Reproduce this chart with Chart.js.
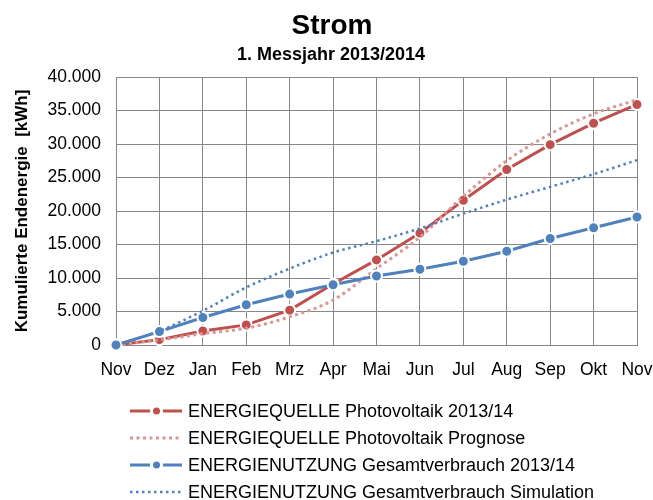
<!DOCTYPE html>
<html><head><meta charset="utf-8">
<script src="https://cdn.jsdelivr.net/npm/chart.js@4.4.0/dist/chart.umd.min.js"></script>
<style>html,body{margin:0;padding:0;background:#fff}#wrap{width:653px;height:500px;position:relative}canvas{display:block}</style>
</head><body><div id="wrap"><canvas id="c" width="653" height="500"></canvas></div>
<script>
const months = ['Nov','Dez','Jan','Feb','Mrz','Apr','Mai','Jun','Jul','Aug','Sep','Okt','Nov'];
const pvMeasured   = [0, 800, 2100, 3000, 5200, 9100, 12700, 16700, 21600, 26200, 29900, 33100, 35900];
const pvForecast   = [0, 750, 1700, 2500, 4200, 6700, 11400, 16100, 22200, 27500, 31500, 34500, 36600];
const useMeasured  = [0, 2000, 4100, 6000, 7600, 9000, 10300, 11300, 12500, 14000, 15900, 17500, 19100];
const useSimulated = [0, 2100, 5100, 8600, 11400, 13800, 15500, 17400, 19600, 21700, 23600, 25500, 27600];
const seriesLabels = [
  'ENERGIEQUELLE Photovoltaik 2013/14',
  'ENERGIEQUELLE Photovoltaik Prognose',
  'ENERGIENUTZUNG Gesamtverbrauch 2013/14',
  'ENERGIENUTZUNG Gesamtverbrauch Simulation'
];
const titleText = 'Strom';
const subtitleText = '1. Messjahr 2013/2014';
const yAxisTitle = 'Kumulierte Endenergie  [kWh]';
const yMax = 40000, yStep = 5000;

const FONT = '"Liberation Sans", Arial, sans-serif';
const RED = '#C0504D', PINK = '#D99694', BLUE = '#4F81BD', GRID = '#878787';

function fmt(v){ return String(v).replace(/\B(?=(\d{3})+(?!\d))/g, '.'); }

const titlePlugin = {
  id: 'titles',
  afterDraw(chart){
    const ctx = chart.ctx;
    ctx.save();
    ctx.fillStyle = '#000';
    ctx.textAlign = 'center';
    ctx.textBaseline = 'alphabetic';
    ctx.font = 'bold 28px ' + FONT;
    ctx.fillText(titleText, 332, 34);
    ctx.font = 'bold 18px ' + FONT;
    ctx.fillText(subtitleText, 331, 60);
    ctx.restore();
  }
};

const legendPlugin = {
  id: 'customLegend',
  afterDraw(chart){
    const ctx = chart.ctx;
    const rows = [411, 438, 465, 492];
    ctx.save();
    chart.data.datasets.forEach((ds, i) => {
      const y = rows[i];
      ctx.beginPath();
      ctx.strokeStyle = ds.borderColor;
      ctx.lineWidth = ds.borderWidth;
      ctx.setLineDash(ds.borderDash || []);
      ctx.lineCap = 'butt';
      ctx.moveTo(130, y);
      ctx.lineTo(182, y);
      ctx.stroke();
      ctx.setLineDash([]);
      if (ds.pointRadius > 0) {
        ctx.beginPath();
        ctx.arc(156.5, y, 3.5, 0, Math.PI * 2);
        ctx.fillStyle = ds.borderColor;
        ctx.strokeStyle = '#fff';
        ctx.lineWidth = 6;
        ctx.stroke();
        ctx.fill();
      }
      ctx.fillStyle = '#000';
      ctx.font = '18px ' + FONT;
      ctx.textAlign = 'left';
      ctx.textBaseline = 'middle';
      ctx.fillText(ds.label, 188, y + 1);
    });
    ctx.restore();
  }
};

new Chart(document.getElementById('c'), {
  type: 'line',
  data: {
    labels: months,
    datasets: [
      { label: seriesLabels[0], data: pvMeasured, borderColor: RED, backgroundColor: RED, borderWidth: 3,
        pointRadius: 5.5, pointBackgroundColor: RED, pointBorderColor: '#fff', pointBorderWidth: 2,
        tension: 0, clip: false, order: 4 },
      { label: seriesLabels[1], data: pvForecast, borderColor: PINK, backgroundColor: PINK, borderWidth: 3,
        borderDash: [3, 3.5], pointRadius: 0, cubicInterpolationMode: 'monotone', clip: false, order: 3 },
      { label: seriesLabels[2], data: useMeasured, borderColor: BLUE, backgroundColor: BLUE, borderWidth: 3,
        pointRadius: 5.5, pointBackgroundColor: BLUE, pointBorderColor: '#fff', pointBorderWidth: 2,
        tension: 0, clip: false, order: 2 },
      { label: seriesLabels[3], data: useSimulated, borderColor: BLUE, backgroundColor: BLUE, borderWidth: 2.5,
        borderDash: [2.5, 3.5], pointRadius: 0, cubicInterpolationMode: 'monotone', clip: false, order: 1 }
    ]
  },
  options: {
    responsive: false,
    devicePixelRatio: 1,
    animation: false,
    layout: { padding: { top: 77, right: 16, bottom: 115, left: 0 } },
    plugins: { legend: { display: false }, title: { display: false }, tooltip: { enabled: false } },
    scales: {
      x: {
        type: 'category',
        offset: false,
        grid: { color: GRID, lineWidth: 1, drawTicks: false },
        border: { color: GRID, width: 1 },
        ticks: { color: '#000', font: { family: FONT, size: 17.5 }, padding: 15, maxRotation: 0, autoSkip: false },
        afterFit(s){ s.height = 40; s.paddingRight = 0; s.paddingLeft = 0; }
      },
      y: {
        min: 0, max: yMax,
        grid: { color: GRID, lineWidth: 1, drawTicks: false },
        border: { color: GRID, width: 1 },
        ticks: { stepSize: yStep, color: '#000', font: { family: FONT, size: 17.5 }, padding: 15,
                 callback: v => fmt(v) },
        title: { display: true, text: yAxisTitle, color: '#000',
                 font: { family: FONT, size: 17, weight: 'bold' }, padding: { top: 12, bottom: 0 } },
        afterFit(s){ s.width = 116; s.paddingTop = 0; s.paddingBottom = 0; }
      }
    }
  },
  plugins: [titlePlugin, legendPlugin]
});
</script>
</body></html>
